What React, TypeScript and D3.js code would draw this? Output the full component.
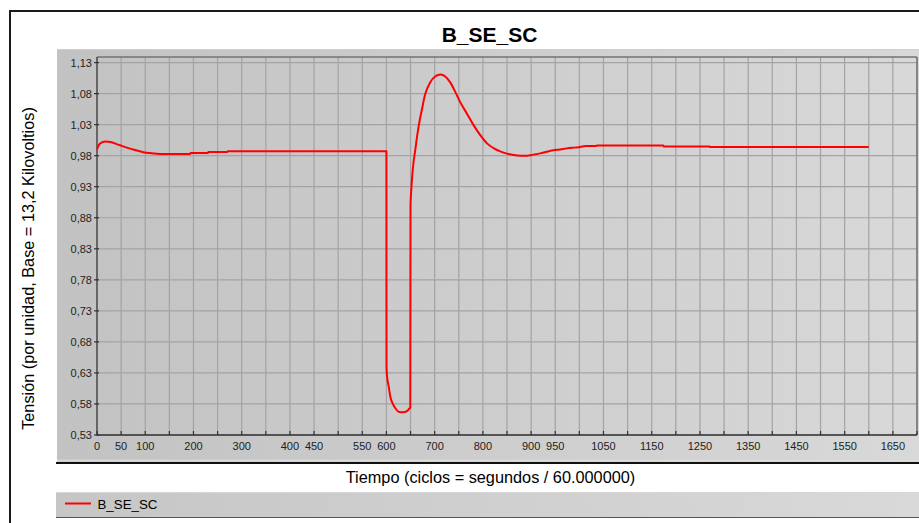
import React from "react";
import * as d3 from "d3";

const TITLE = "B_SE_SC";
const SERIES_NAME = "B_SE_SC";
const X_TITLE = "Tiempo (ciclos = segundos / 60.000000)";
const Y_TITLE = "Tensión (por unidad, Base = 13,2 Kilovoltios)";

const TIME = [
  0, 3, 7, 17, 28, 48, 75, 96, 110, 131, 193, 194, 230, 231, 270, 271, 600,
  600.2, 601.4, 604.8, 608, 612.9, 618.5, 625.3, 634.4, 642.7, 648, 649.5,
  650, 651.5, 653, 656, 660, 663, 667, 674, 680, 691, 701, 712, 722, 732, 743,
  753, 767, 781, 795, 808, 822, 836, 850, 864, 878, 891, 905, 919, 933, 946,
  960, 974, 988, 1002, 1013, 1035, 1036, 1174, 1175, 1270, 1271, 1600,
];
const VOLTAGE = [
  0.99, 0.996, 1.0, 1.003, 1.002, 0.9967, 0.99, 0.9857, 0.9842, 0.9828, 0.9828,
  0.9842, 0.9845, 0.9858, 0.986, 0.987, 0.987,
  0.641, 0.624, 0.608, 0.592, 0.581, 0.573, 0.5675, 0.5665, 0.5686, 0.573, 0.574,
  0.9, 0.924, 0.942, 0.968, 0.99, 1.008, 1.028, 1.056, 1.078, 1.0985, 1.1076,
  1.1108, 1.1076, 1.0985, 1.0824, 1.0663, 1.0476, 1.0288, 1.0127, 1.0003,
  0.9923, 0.987, 0.9833, 0.981, 0.98, 0.98, 0.9817, 0.9837, 0.9865, 0.9886,
  0.99, 0.9918, 0.993, 0.994, 0.9955, 0.9957, 0.9966, 0.9966, 0.995, 0.995,
  0.994, 0.994,
];

const Y_TICKS = [0.53, 0.58, 0.63, 0.68, 0.73, 0.78, 0.83, 0.88, 0.93, 0.98, 1.03, 1.08, 1.13];
const X_GRID = d3.range(0, 1701, 50);
const X_LABELS = [0, 50, 100, 200, 300, 400, 450, 550, 600, 700, 800, 900, 950, 1050, 1150, 1250, 1350, 1450, 1550, 1650];

const W = 919;
const H = 523;
const FONT = "Arial, 'Liberation Sans', sans-serif";

export default function App() {
  const left = 97;
  const right = 917;
  const top = 57;
  const bottom = 435;

  const x = d3.scaleLinear().domain([0, 1700]).range([left, right]);
  const y = d3.scaleLinear().domain([0.53, 1.139]).range([bottom, top]);

  const pts = TIME.map((t, i) => [t, VOLTAGE[i]] as [number, number]);
  const line = d3
    .line<[number, number]>()
    .x((d) => x(d[0]))
    .y((d) => y(d[1]))
    .curve(d3.curveMonotoneX);

  const fmtY = (v: number) => d3.format(".2f")(v).replace(".", ",");

  return (
    <svg
      width={W}
      height={H}
      style={{ position: "absolute", left: 0, top: 0, background: "#fff" }}
      fontFamily={FONT}
    >
      <defs>
        <linearGradient id="panelGrad" x1="0" x2="1" y1="0" y2="0">
          <stop offset="0%" stopColor="#c2c2c2" />
          <stop offset="100%" stopColor="#dadada" />
        </linearGradient>
        <linearGradient id="legendGrad" x1="0" x2="1" y1="0" y2="0">
          <stop offset="0%" stopColor="#c6c6c6" />
          <stop offset="100%" stopColor="#dadada" />
        </linearGradient>
      </defs>
      <rect x={0} y={0} width={W} height={H} fill="#fff" />

      {/* outer frame */}
      <rect x={10} y={11} width={W + 20} height={H + 20} fill="none" stroke="#1a1a1a" strokeWidth={2} />

      {/* title */}
      <text x={489.5} y={41.5} textAnchor="middle" fontSize={21} fontWeight="bold" fill="#000">
        {TITLE}
      </text>

      {/* panel */}
      <rect x={57} y={49} width={W} height={413} fill="url(#panelGrad)" />
      <line x1={57} x2={W} y1={49.5} y2={49.5} stroke="#cfcfcf" strokeWidth={1} />
      <line x1={57} x2={W} y1={460.5} y2={460.5} stroke="#dcdcdc" strokeWidth={1.5} />
      <line x1={56} x2={W} y1={463} y2={463} stroke="#111" strokeWidth={2} />

      {/* grid */}
      {Y_TICKS.map((v) => (
        <line key={"gy" + v} x1={left} x2={right} y1={y(v)} y2={y(v)} stroke="#a3a3a3" strokeWidth={1.2} />
      ))}
      {X_GRID.filter((v) => v > 0 && v < 1700).map((v) => (
        <line key={"gx" + v} x1={x(v)} x2={x(v)} y1={top} y2={bottom} stroke="#a3a3a3" strokeWidth={1.2} />
      ))}

      {/* plot frame */}
      <line x1={left} x2={right} y1={top} y2={top} stroke="#737373" strokeWidth={1.5} />
      <line x1={right} x2={right} y1={top} y2={bottom} stroke="#6a6a6a" strokeWidth={1.5} />
      <line x1={left} x2={left} y1={top} y2={bottom + 0.5} stroke="#333" strokeWidth={1.3} />
      <line x1={left} x2={right} y1={bottom} y2={bottom} stroke="#333" strokeWidth={1.3} />

      {/* x ticks */}
      {X_GRID.map((v) => (
        <line key={"tx" + v} x1={x(v)} x2={x(v)} y1={bottom} y2={bottom - 4} stroke="#333" strokeWidth={1.2} />
      ))}
      {X_LABELS.map((v) => (
        <text key={"lx" + v} x={x(v)} y={450} textAnchor="middle" fontSize={11} fill="#222">
          {v}
        </text>
      ))}

      {/* y ticks */}
      {Y_TICKS.map((v) => (
        <g key={"ty" + v}>
          <line x1={left - 3} x2={left + 2} y1={y(v)} y2={y(v)} stroke="#333" strokeWidth={1.2} />
          <text x={92} y={y(v) + 4} textAnchor="end" fontSize={11} fill="#222">
            {fmtY(v)}
          </text>
        </g>
      ))}

      {/* series */}
      <path d={line(pts) || ""} fill="none" stroke="#ff0000" strokeWidth={2} strokeLinejoin="round" />

      {/* axis titles */}
      <text x={490.5} y={482.5} textAnchor="middle" fontSize={16.3} fill="#000">
        {X_TITLE}
      </text>
      <text
        transform={`translate(33.5, 268.5) rotate(-90)`}
        textAnchor="middle"
        fontSize={16.3}
        fill="#000"
      >
        {Y_TITLE}
      </text>

      {/* legend */}
      <rect x={56} y={492} width={W} height={25} fill="url(#legendGrad)" />
      <line x1={56} x2={W} y1={492.5} y2={492.5} stroke="#d6d6d6" strokeWidth={1} />
      <line x1={56} x2={W} y1={517.5} y2={517.5} stroke="#555" strokeWidth={1.2} />
      <line x1={65} x2={91} y1={503.5} y2={503.5} stroke="#ff0000" strokeWidth={2} />
      <text x={97.5} y={509} fontSize={13.3} fill="#000">
        {SERIES_NAME}
      </text>
    </svg>
  );
}
